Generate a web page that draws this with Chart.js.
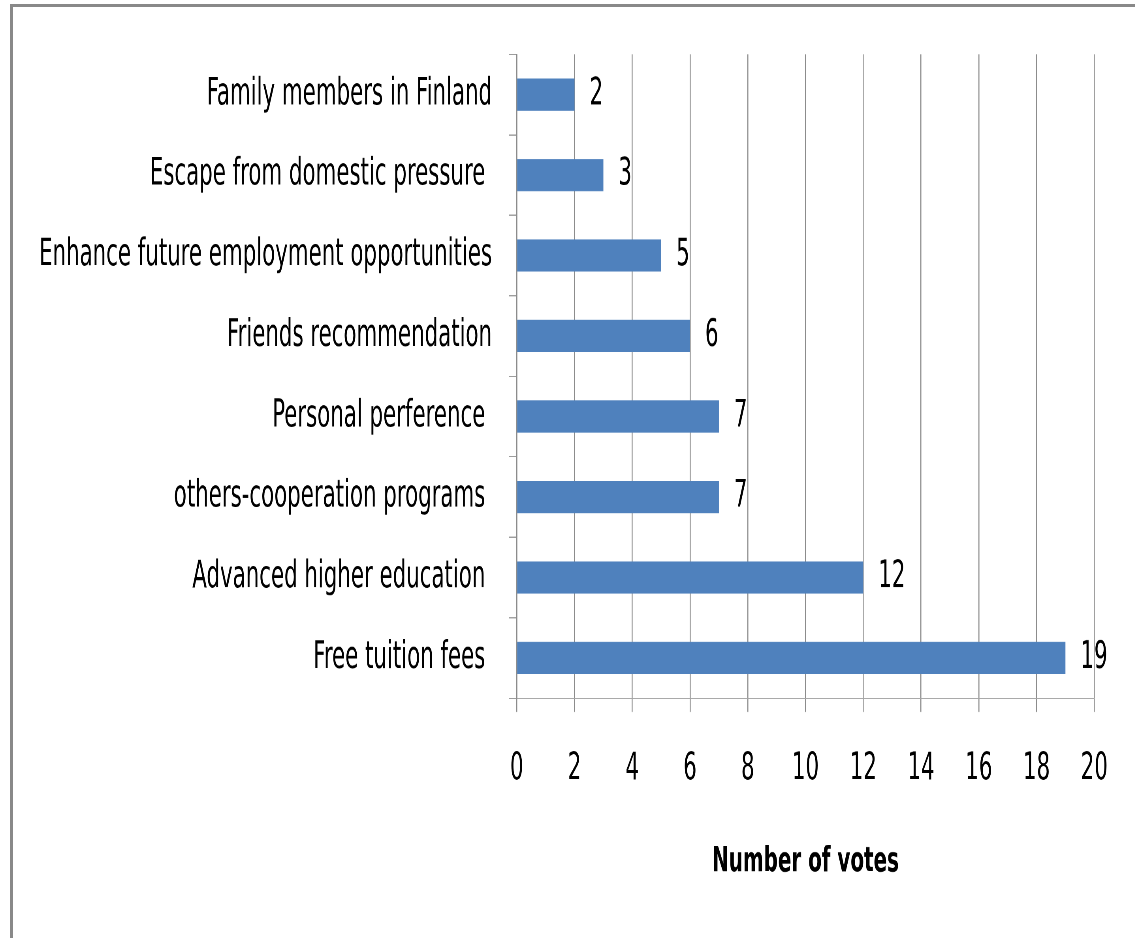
<!DOCTYPE html>
<html>
<head>
<meta charset="utf-8">
<script src="https://cdn.jsdelivr.net/npm/chart.js@4/dist/chart.umd.min.js"></script>
<style>
  html, body { margin: 0; padding: 0; background: #ffffff; overflow: hidden; }
  #frame { position: absolute; left: 10px; top: 4px; width: 1200px; height: 1000px;
           border-top: 3px solid #898989; border-left: 3px solid #898989; box-sizing: border-box; }
  #wrap { position: absolute; left: 0; top: 0; width: 1437px; height: 750px;
          transform: scale(0.79, 1.25067); transform-origin: 0 0; }
  canvas { display: block; }
</style>
</head>
<body>
<div id="frame"></div>
<div id="wrap"><canvas id="c" width="1437" height="750" style="width:1437px;height:750px"></canvas></div>
<script>
const categories = [
  "Family members in Finland",
  "Escape from domestic pressure ",
  "Enhance future employment opportunities",
  "Friends recommendation",
  "Personal perference ",
  "others-cooperation programs ",
  "Advanced higher education ",
  "Free tuition fees "
];
const votes = [2, 3, 5, 6, 7, 7, 12, 19];
const axisMin = 0;
const axisMax = 20;
const axisStep = 2;
const axisTitle = "Number of votes";

const FONT = '"Liberation Sans Narrow", "Arial Narrow", "DejaVu Sans Condensed", sans-serif';
const GRID = '#8c8c8c';
const TEXT = '#000000';

const valueLabels = {
  id: 'valueLabels',
  afterDatasetsDraw(chart) {
    const ctx = chart.ctx;
    const meta = chart.getDatasetMeta(0);
    ctx.save();
    ctx.font = '30px ' + FONT;
    ctx.fillStyle = TEXT;
    ctx.textAlign = 'left';
    ctx.textBaseline = 'middle';
    meta.data.forEach((bar, i) => {
      ctx.fillText(String(chart.data.datasets[0].data[i]), bar.x + 19, bar.y);
    });
    ctx.restore();
  }
};

new Chart(document.getElementById('c'), {
  type: 'bar',
  data: {
    labels: categories,
    datasets: [{
      data: votes,
      backgroundColor: '#4F81BD',
      borderWidth: 0,
      barPercentage: 0.4,
      categoryPercentage: 1.0
    }]
  },
  options: {
    indexAxis: 'y',
    responsive: false,
    animation: false,
    devicePixelRatio: 2,
    layout: { padding: { left: 0, right: 51.8, top: 43.4, bottom: 44.2 } },
    plugins: { legend: { display: false }, tooltip: { enabled: false } },
    scales: {
      x: {
        type: 'linear',
        min: axisMin,
        max: axisMax,
        ticks: { stepSize: axisStep, color: TEXT, font: { family: FONT, size: 30 }, padding: 28 },
        grid: { color: GRID, lineWidth: 1.27, tickLength: 11, drawOnChartArea: true },
        border: { color: GRID, width: 0.85 },
        title: { display: true, text: axisTitle, color: TEXT,
                 font: { family: FONT, size: 28, weight: 'bold' }, padding: { top: 0, bottom: 0 } },
        afterFit(scale) { scale.height = 147.5; }
      },
      y: {
        ticks: { color: TEXT, font: { family: FONT, size: 30 }, padding: 21.1 },
        grid: { color: GRID, lineWidth: 0.85, tickLength: 10.1, drawOnChartArea: false, offset: true },
        border: { color: GRID, width: 1.27 },
        afterFit(scale) { scale.width = 654.1; }
      }
    }
  },
  plugins: [valueLabels]
});
</script>
</body>
</html>
